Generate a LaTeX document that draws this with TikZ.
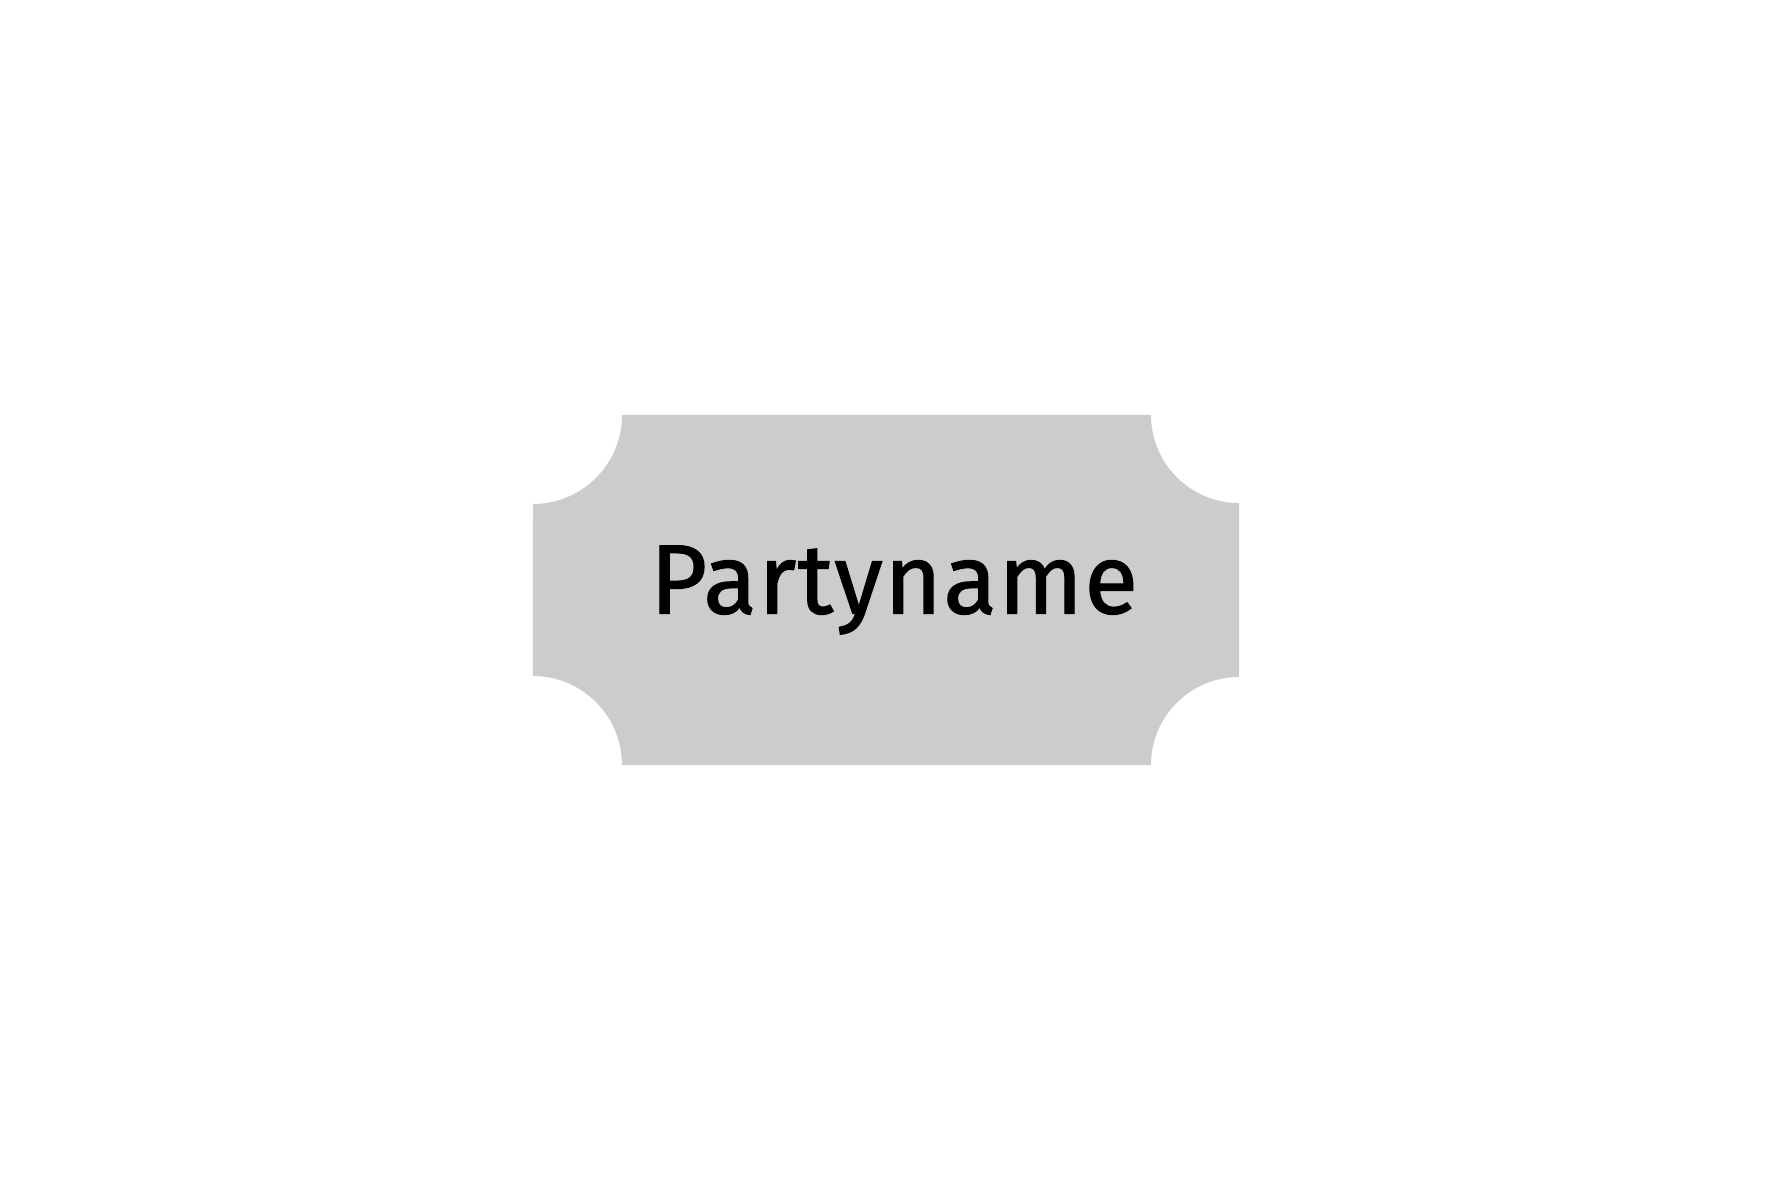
\documentclass[tikz,border=0pt]{standalone}
\usepackage{fontspec}
\setmainfont{Fira Sans}[FakeBold=1.2,LetterSpace=1.5]
\definecolor{ticketgray}{HTML}{CCCCCC}

\begin{document}
\begin{tikzpicture}[x=0.01cm,y=0.01cm]
\useasboundingbox (0,0) rectangle (1772,1181);
\coordinate (A) at (533,766); \coordinate (B) at (1239,766); \coordinate (C) at (1239,416); \coordinate (D) at (533,416); \coordinate (O) at (886,591);
\fill[ticketgray] (622,766) -- (1151,766) arc[start angle=180,end angle=270,radius=0.88cm]
  -- (1239,504) arc[start angle=90,end angle=180,radius=0.88cm]
  -- (622,416) arc[start angle=0,end angle=90,radius=0.89cm]
  -- (533,677) arc[start angle=270,end angle=360,radius=0.89cm] -- cycle;
\node[font=\fontsize{28}{34}\selectfont] (name) at (894,591) {Partyname};
\end{tikzpicture}
\end{document}
